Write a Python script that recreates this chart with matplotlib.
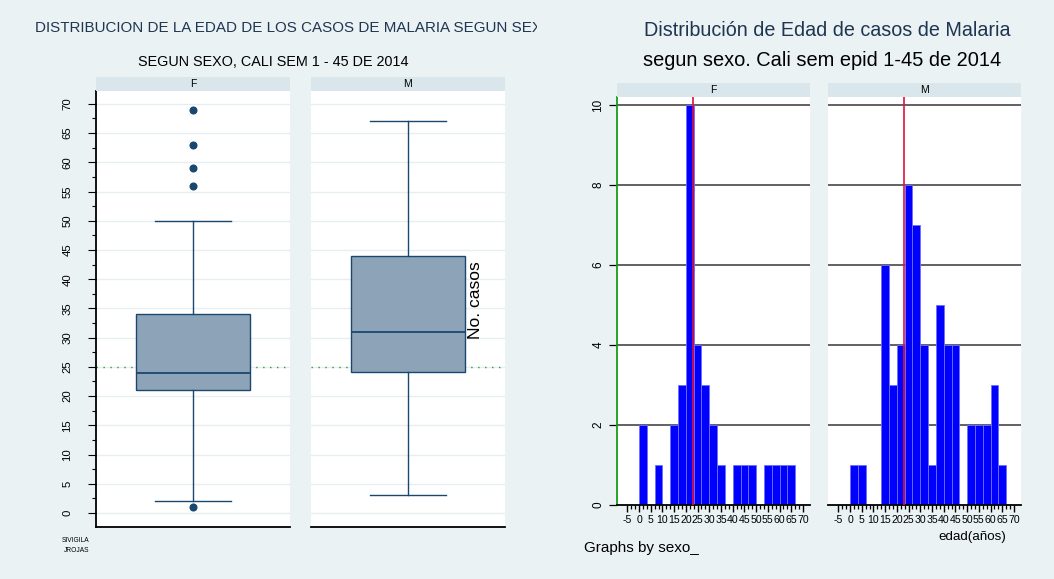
import numpy as np
import matplotlib
matplotlib.use("Agg")
from matplotlib import pyplot as plt
from matplotlib.transforms import Bbox, TransformedBbox

plt.rcParams['font.family'] = ['Liberation Sans', 'DejaVu Sans']
plt.rcParams['axes.unicode_minus'] = False

# box plot summaries (edad por sexo)
sexos = ["F", "M"]
box_q1 = [21, 24.2]
box_med = [24, 31]
box_q3 = [34, 44]
box_lo = [2, 3]
box_hi = [50, 67]
box_out = [[1, 56, 59, 63, 69], []]
ref_edad = 25

# histogram counts, bins of 10/3 years from 0 to 70
bin_edges = np.linspace(0, 70, 22)
conteo_f = [2, 0, 1, 0, 2, 3, 10, 4, 3, 2, 1, 0, 1, 1, 1, 0, 1, 1, 1, 1, 0]
conteo_m = [1, 1, 0, 0, 6, 3, 4, 8, 7, 4, 1, 5, 4, 4, 0, 2, 2, 2, 3, 1, 0]
linea_roja = 23

W, H = 1054, 579
bg = '#eaf2f3'
strip_c = '#d9e6eb'
navy = '#1a476f'
boxfill = '#8da4b8'

fig = plt.figure(figsize=(W / 100, H / 100), dpi=100, facecolor=bg)

def fx(px):
    return px / W

def fy(py):
    return 1 - py / H

def rect(x0, y0, x1, y1):  # pixel box -> figure rect
    return [fx(x0), fy(y1), fx(x1 - x0), (y1 - y0) / H]

# white strip at the very top
top = fig.add_axes(rect(0, 0, W, 6))
top.set_facecolor('white')
top.axis('off')
top.patch.set_visible(True)

# ---------------- left: box plots ----------------
t = fig.text(fx(35), fy(28), "DISTRIBUCION DE LA EDAD DE LOS CASOS DE MALARIA SEGUN SEXO",
             fontsize=10.9, color='#1f3552', va='center', ha='left')
t.set_clip_box(TransformedBbox(Bbox([[0, 0], [537 / W, 1]]), fig.transFigure))
t.set_clip_on(True)
fig.text(fx(273), fy(62), "SEGUN SEXO, CALI SEM 1 - 45 DE 2014", fontsize=10.4,
         color='black', va='center', ha='center')

box_x = [(96, 290), (311, 505)]
for i, s in enumerate(sexos):
    x0, x1 = box_x[i]
    ax = fig.add_axes(rect(x0, 91, x1, 527))
    ax.set_facecolor('white')
    ax.set_xlim(0, 1)
    ax.set_ylim(-2.4, 72.2)
    ax.set_yticks(np.arange(0, 71, 5))
    ax.set_yticks(np.arange(2.5, 71, 5), minor=True)
    for yv in np.arange(0, 71, 5):
        ax.axhline(yv, color='#e6eef0', lw=1.0, zorder=0)
    ax.axhline(ref_edad, color='#2f9a2f', lw=1.0, ls=(0, (1, 4)), zorder=1)
    stats = [dict(med=box_med[i], q1=box_q1[i], q3=box_q3[i], whislo=box_lo[i],
                  whishi=box_hi[i], fliers=box_out[i])]
    ax.bxp(stats, positions=[0.5], widths=0.59, capwidths=0.39, patch_artist=True,
           showfliers=True,
           boxprops=dict(facecolor=boxfill, edgecolor=navy, lw=1.0),
           medianprops=dict(color=navy, lw=1.3),
           whiskerprops=dict(color=navy, lw=1.0),
           capprops=dict(color=navy, lw=1.0),
           flierprops=dict(marker='o', markerfacecolor=navy, markeredgecolor=navy,
                           markersize=4.8))
    ax.set_xticks([])
    for sp in ['top', 'right']:
        ax.spines[sp].set_visible(False)
    ax.spines['bottom'].set_linewidth(1.3)
    if i == 0:
        ax.spines['left'].set_linewidth(1.3)
        ax.tick_params(axis='y', which='major', length=6, width=0.8, pad=11, labelsize=8.2,
                       labelrotation=90)
        ax.tick_params(axis='y', which='minor', length=3, width=0.8)
        for lab in ax.get_yticklabels():
            lab.set_va('center')
    else:
        ax.spines['left'].set_visible(False)
        ax.set_yticks([])
        ax.set_yticks([], minor=True)
    sa = fig.add_axes(rect(x0, 77, x1, 91))
    sa.set_facecolor(strip_c)
    sa.set_xticks([])
    sa.set_yticks([])
    for sp in sa.spines.values():
        sp.set_visible(False)
    sa.text(0.5, 0.5, s, ha='center', va='center', fontsize=7.5, transform=sa.transAxes)

fig.text(fx(62), fy(541), "SIVIGILA", fontsize=4.8, va='center', ha='left')
fig.text(fx(64), fy(551), "JROJAS", fontsize=4.8, va='center', ha='left')

# ---------------- right: histograms ----------------
fig.text(fx(827), fy(30), "Distribución de Edad de casos de Malaria", fontsize=14.2,
         color='#1f3552', va='center', ha='center')
fig.text(fx(822), fy(61), "segun sexo. Cali sem epid 1-45 de 2014", fontsize=14.4,
         color='black', va='center', ha='center')

hist_x = [(617, 810), (828, 1021)]
conteos = [conteo_f, conteo_m]
widths = np.diff(bin_edges)
for i, s in enumerate(sexos):
    x0, x1 = hist_x[i]
    ax = fig.add_axes(rect(x0, 97, x1, 505))
    ax.set_facecolor('white')
    ax.set_xlim(-9.4, 73)
    ax.set_ylim(0, 10.2)
    for yv in [2, 4, 6, 8, 10]:
        ax.axhline(yv, color='#555555', lw=1.3, zorder=0)
    ax.bar(bin_edges[:-1], conteos[i], width=widths, align='edge', color='#0000ff',
           edgecolor='#6f6fff', lw=0.6, zorder=2)
    ax.axvline(linea_roja, color='#e0103c', lw=1.2, zorder=3)
    ax.set_xticks(np.arange(-5, 71, 5))
    ax.set_xticks(np.arange(-5, 71, 5 / 3), minor=True)
    ax.tick_params(axis='x', which='major', length=5, width=1.0, pad=2, labelsize=7.6)
    ax.tick_params(axis='x', which='minor', length=3, width=0.9)
    for sp in ['top', 'right']:
        ax.spines[sp].set_visible(False)
    ax.spines['bottom'].set_linewidth(1.3)
    if i == 0:
        ax.spines['left'].set_color('#1a9a1a')
        ax.spines['left'].set_linewidth(1.3)
        ax.set_yticks([0, 2, 4, 6, 8, 10])
        ax.tick_params(axis='y', length=6, width=0.9, pad=3, labelsize=8.5, labelrotation=90)
        for lab in ax.get_yticklabels():
            lab.set_va('center')
    else:
        ax.spines['left'].set_visible(False)
        ax.set_yticks([])
    sa = fig.add_axes(rect(x0, 83, x1, 97))
    sa.set_facecolor(strip_c)
    sa.set_xticks([])
    sa.set_yticks([])
    for sp in sa.spines.values():
        sp.set_visible(False)
    sa.text(0.5, 0.5, s, ha='center', va='center', fontsize=7.5, transform=sa.transAxes)

fig.text(fx(476), fy(300), "No. casos", fontsize=12.5, rotation=90, va='center', ha='center')
fig.text(fx(972), fy(537), "edad(años)", fontsize=9.6, va='center', ha='center')
fig.text(fx(584), fy(548), "Graphs by sexo_", fontsize=11, va='center', ha='left')

fig.savefig("out.png", dpi=100, facecolor=bg)
